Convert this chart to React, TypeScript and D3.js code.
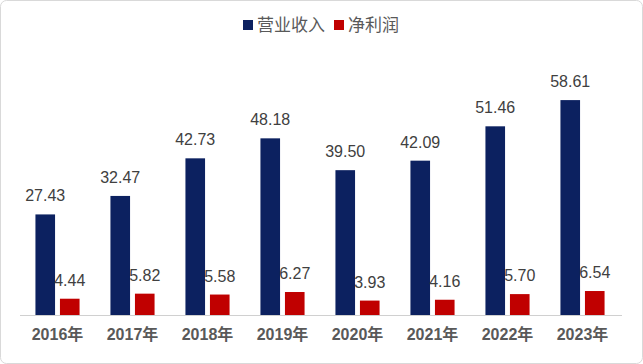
import React, { useEffect, useRef } from 'react';
import * as d3 from 'd3';

const years = ['2016年', '2017年', '2018年', '2019年', '2020年', '2021年', '2022年', '2023年'];
const revenue = [27.43, 32.47, 42.73, 48.18, 39.5, 42.09, 51.46, 58.61];
const netProfit = [4.44, 5.82, 5.58, 6.27, 3.93, 4.16, 5.7, 6.54];
const seriesNames = ['营业收入', '净利润'];
const seriesColors = ['#0c2160', '#c00000'];

const W = 643;
const H = 364;

const App: React.FC = () => {
  const svgRef = useRef<SVGSVGElement>(null);

  useEffect(() => {
    if (!svgRef.current) return;
    const svg = d3.select(svgRef.current);
    svg.selectAll('*').remove();

    const font = '"Liberation Sans", Arial, "Noto Sans CJK SC", sans-serif';
    const baseY = 315;

    // Frame
    svg.append('rect')
      .attr('x', 0.5).attr('y', 0.5)
      .attr('width', W - 1).attr('height', H - 1)
      .attr('rx', 6)
      .attr('fill', '#fff')
      .attr('stroke', '#d9d9d9');

    const x = d3.scaleBand().domain(years).range([20, 620]).padding(0);
    const xSub = d3.scaleBand()
      .domain(['rev', 'profit'])
      .range([0, x.bandwidth()])
      .paddingInner(0.2)
      .paddingOuter(0.63);
    const y = d3.scaleLinear().domain([0, 60]).range([baseY, 95]);

    const data = years.map((yr, i) => ({ yr, rev: revenue[i], profit: netProfit[i] }));

    const groups = svg.append('g')
      .selectAll('g')
      .data(data)
      .enter()
      .append('g')
      .attr('transform', d => `translate(${x(d.yr)},0)`);

    (['rev', 'profit'] as const).forEach((key, k) => {
      groups.append('rect')
        .attr('x', xSub(key)!)
        .attr('y', d => y(d[key]))
        .attr('width', xSub.bandwidth())
        .attr('height', d => baseY - y(d[key]))
        .attr('fill', seriesColors[k]);

      groups.append('text')
        .attr('x', xSub(key)! + xSub.bandwidth() / 2)
        .attr('y', d => y(d[key]) - 13)
        .attr('text-anchor', 'middle')
        .style('font-family', font)
        .style('font-size', '16px')
        .attr('fill', '#404040')
        .text(d => d[key].toFixed(2));
    });

    // Axis
    const axis = svg.append('g')
      .attr('transform', `translate(0,${baseY})`)
      .call(d3.axisBottom(x).tickSize(0).tickPadding(14));
    axis.select('.domain').attr('stroke', '#d0d0d0').attr('d', 'M20,0.5H622');
    axis.selectAll('text')
      .style('font-family', font)
      .style('font-size', '16px')
      .style('font-weight', 'bold')
      .attr('fill', '#595959');

    // Legend
    const legend = svg.append('g').attr('transform', 'translate(243,25)');
    const legendX = [0, 91];
    seriesNames.forEach((name, i) => {
      legend.append('rect')
        .attr('x', legendX[i]).attr('y', -5)
        .attr('width', 10).attr('height', 10)
        .attr('fill', seriesColors[i]);
      legend.append('text')
        .attr('x', legendX[i] + 14)
        .attr('y', 6)
        .style('font-family', font)
        .style('font-size', '17px')
        .attr('fill', '#595959')
        .text(name);
    });
  }, []);

  return (
    <div style={{ position: 'absolute', left: 0, top: 0 }}>
      <svg ref={svgRef} width={W} height={H}></svg>
    </div>
  );
};

export default App;
